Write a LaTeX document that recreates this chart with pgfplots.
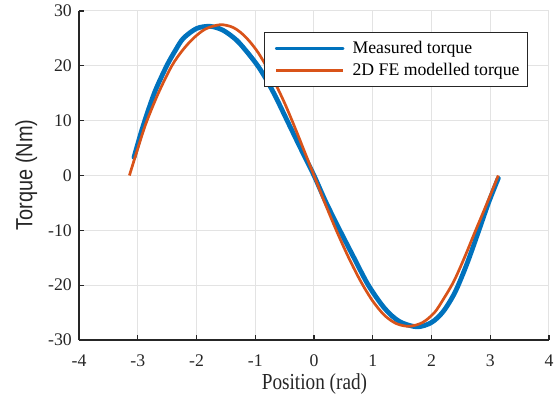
\documentclass[border=0pt]{standalone}
\usepackage{pgfplots}
\pgfplotsset{compat=1.18}
\usepackage{fontspec}
\setmainfont{Liberation Serif}
\newfontfamily\serif{Liberation Serif}
\newfontfamily\xlabfont[FakeStretch=0.84]{Liberation Serif}
\newfontfamily\ylabfont[FakeStretch=0.85]{Liberation Sans}
\definecolor{mblue}{HTML}{0072BD}
\definecolor{morange}{HTML}{D95319}
\definecolor{axgray}{HTML}{262626}
\definecolor{gridgray}{HTML}{E3E3E3}
\begin{document}
\begin{tikzpicture}
\useasboundingbox (0,0) rectangle (560bp,397bp);
\begin{axis}[
  at={(79bp,57bp)}, anchor=south west,
  scale only axis, width=470bp, height=329bp,
  xmin=-4, xmax=4, ymin=-30, ymax=30,
  xtick={-4,-3,...,4}, ytick={-30,-20,...,30},
  axis lines=left,
  axis line style={-, color=axgray, line width=1.3bp},
  tick align=inside, major tick length=5bp,
  tick style={color=axgray, line width=1.3bp},
  grid=major, grid style={gridgray, line width=1bp},
  /pgf/number format/assume math mode=true,
  ticklabel style={font=\fontsize{17.8}{20}\selectfont\serif, text=axgray},
  xticklabel style={anchor=base, yshift=-26bp, inner sep=0pt},
  yticklabel style={anchor=east, xshift=-7bp, inner sep=0pt},
  xlabel={Position (rad)}, ylabel={Torque (Nm)},
  every axis x label/.style={at={(axis description cs:0.501,-0.149)}, anchor=base, font=\fontsize{23}{26}\selectfont\xlabfont, text=axgray},
  every axis y label/.style={at={(axis description cs:-0.0994,0.5015)}, anchor=base, rotate=90, font=\fontsize{23.5}{26}\selectfont\ylabfont, text=axgray},
  legend style={at={(axis description cs:1,1)}, anchor=north east, xshift=-21bp, yshift=-21bp,
    draw=axgray, line width=1bp, fill=white, font=\fontsize{17.8}{20}\selectfont\serif,
    inner xsep=6bp, inner ysep=7bp, row sep=4bp, cells={anchor=west}},
  legend image code/.code={\path (-3bp,0bp) (72bp,0bp); \draw[#1,line width=2.7bp] (0bp,0bp) -- (67bp,0bp);},
]
\addplot[mblue, line width=4.8bp, smooth, tension=0.5, line join=round, line cap=round] coordinates {
(-3.064,3.3) (-2.95,7.6) (-2.84,11.3) (-2.7,15.5) (-2.507,20) (-2.36,22.8) (-2.225,25) (-2.0,26.8)
(-1.77,27.2) (-1.55,26.5) (-1.32,24.7) (-1.13,22.4) (-0.95,19.9) (-0.8,17.3) (-0.65,14.3) (-0.465,10.2)
(-0.23,5) (0,0) (0.2,-4.8) (0.44,-10) (0.68,-15) (0.925,-20) (1.2,-24.2) (1.45,-26.6) (1.75,-27.6)
(2.0,-26.8) (2.2,-24.8) (2.4,-21.3) (2.6,-16.2) (2.797,-10.3) (2.97,-5) (3.137,-0.5)
};
\addlegendentry{Measured torque}
\addplot[morange, line width=2.7bp, smooth, tension=0.5, line join=round] coordinates {
(-3.142,0) (-3.0,4.9) (-2.86,9.5) (-2.65,15.0) (-2.42,20) (-2.24,22.8) (-2.055,25) (-1.85,26.7)
(-1.6,27.5) (-1.4,27.1) (-1.25,26.1) (-1.1,24.5) (-0.95,22.4) (-0.8,19.7) (-0.65,16.6) (-0.5,13.2)
(-0.35,9.4) (-0.2,5.4) (0,0) (0.2,-5.4) (0.4,-10.5) (0.6,-15.2) (0.8,-19.4) (1.0,-22.9) (1.2,-25.5)
(1.4,-27.0) (1.62,-27.5) (1.85,-26.8) (2.05,-25.0) (2.2,-22.6) (2.38,-19.3) (2.56,-15.0) (2.74,-10.3)
(2.94,-5.2) (3.137,0)
};
\addlegendentry{2D FE modelled torque}
\end{axis}
\end{tikzpicture}
\end{document}
